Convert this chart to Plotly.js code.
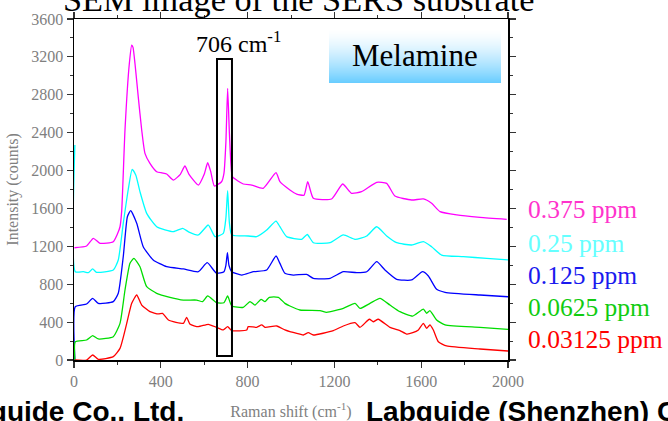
<!DOCTYPE html>
<html>
<head>
<meta charset="utf-8">
<script src="https://cdn.plot.ly/plotly-3.0.1.min.js"></script>
<style>html,body{margin:0;padding:0;background:#fff;}#chart{width:668px;height:421px;}</style>
</head>
<body>
<div id="chart"></div>
<script>
// ---- data ----
const seriesNames = ['0.375 ppm', '0.25 ppm', '0.125 ppm', '0.0625 ppm', '0.03125 ppm'];
const lineColors = ['#ff00ff', '#00ffff', '#0000ff', '#00dd00', '#ff0000'];
const labelColors = ['#ff33cc', '#66ffff', '#1a1aee', '#11cc11', '#ff0000'];

const xMag = [2,58,89,120,181,200,212,220,235,255,266,272,281,296,312,327,350,381,405,427,458,490,511,530,573,600,616,630,647,680,691,700,708,716,723,730,780,819,872,931,949,995,1026,1060,1077,1103,1187,1238,1279,1325,1395,1441,1479,1556,1610,1648,1687,1764,1871,1994];
const yMag = [1185,1203,1285,1232,1249,1330,1407,1580,2430,3130,3325,3300,3130,2780,2428,2182,2076,1988,1975,1964,1900,1960,2048,1960,1847,1960,2083,1990,1837,1882,1970,2300,2868,2400,2076,1935,1858,1847,1813,1978,1882,1795,1752,1740,1883,1707,1700,1858,1760,1777,1876,1865,1731,1689,1700,1654,1566,1531,1506,1485];

const xCyan = [4,6,43,66,86,104,181,204,227,250,268,285,304,335,381,458,501,530,573,619,650,688,700,708,716,727,803,842,888,931,949,980,1049,1075,1103,1180,1241,1295,1349,1395,1441,1487,1556,1610,1648,1694,1794,1902,2000];
const yCyan = [2270,932,932,922,961,926,950,1056,1443,1800,2013,1950,1777,1548,1407,1355,1390,1350,1320,1425,1302,1337,1500,1787,1450,1320,1309,1302,1372,1467,1407,1302,1274,1325,1238,1238,1320,1274,1309,1407,1309,1238,1214,1249,1196,1108,1091,1073,1056];

const xBlue = [4,6,58,86,112,181,204,227,246,261,289,319,365,427,504,573,614,657,691,700,707,714,727,773,826,888,931,949,972,1011,1072,1103,1180,1241,1303,1349,1395,1433,1487,1556,1606,1633,1671,1710,1871,2000];
const yBlue = [0,563,591,651,598,616,704,1091,1513,1576,1443,1196,1056,985,961,932,1027,915,932,1000,1133,1000,932,897,932,950,1098,1020,915,897,904,862,862,932,922,932,1038,950,852,845,932,887,746,715,686,668];

const xGreen = [4,6,58,86,112,181,212,235,258,276,304,335,381,442,504,565,593,616,657,691,708,727,780,811,834,862,880,900,942,972,995,1041,1134,1164,1241,1295,1318,1364,1410,1456,1502,1561,1610,1625,1640,1671,1710,1871,2000];
const yGreen = [0,193,211,257,222,246,387,739,1021,1073,985,774,704,662,633,633,616,676,605,605,676,570,556,616,580,640,616,662,662,598,570,528,521,503,545,598,545,598,651,580,510,464,538,493,521,422,370,345,323];

const xRed = [4,58,86,112,181,212,243,266,289,312,350,389,408,435,504,519,535,573,619,657,688,708,727,796,803,842,865,880,934,972,995,1041,1057,1080,1103,1195,1241,1295,1318,1361,1379,1402,1456,1502,1533,1561,1587,1610,1625,1640,1656,1679,1717,1871,2000];
const yRed = [0,0,53,7,35,123,387,598,686,580,510,486,493,422,387,451,377,352,377,345,317,352,310,317,352,345,370,345,359,317,299,274,264,288,264,310,359,394,345,430,404,430,345,310,274,288,317,387,334,370,317,193,148,116,95];

const xTickVals = [0, 400, 800, 1200, 1600, 2000];
const yTickVals = [0, 400, 800, 1200, 1600, 2000, 2400, 2800, 3200, 3600];
const boxX = [659, 728];   // highlighted band around 706 cm-1
const boxY = [42, 3178];

const xs = [xMag, xCyan, xBlue, xGreen, xRed];
const ys = [yMag, yCyan, yBlue, yGreen, yRed];

const serif = 'Liberation Serif, Times New Roman, serif';
const sans = 'Liberation Sans, Arial, sans-serif';

const traces = xs.map((x, i) => ({
  x: x, y: ys[i], type: 'scatter', mode: 'lines', name: seriesNames[i],
  line: {color: lineColors[i], width: 1.3, shape: 'spline', smoothing: 0.5},
  showlegend: false, hoverinfo: 'skip'
}));

// plot area in px: x 74..508, y 19..360
const L = 74, R = 508, T = 19, B = 360;
const px = p => (p - L) / (R - L);
const py = p => (B - p) / (B - T);

const shapes = [];
// gradient "Melamine" badge built from thin strips
const gTop = 28, gBot = 83, gL = 329, gR = 501;
for (let p = gTop; p < gBot; p++) {
  const t = (p - gTop) / (gBot - gTop);
  const b = Math.pow(t, 1.5);
  const r = Math.round(255 * (1 - b) + 102 * b);
  const g = Math.round(255 * (1 - b) + 204 * b);
  shapes.push({type: 'rect', xref: 'paper', yref: 'paper', layer: 'below',
    x0: px(gL), x1: px(gR), y0: py(p + 1), y1: py(p),
    fillcolor: `rgb(${r},${g},255)`, line: {width: 0}});
}
shapes.push({type: 'rect', xref: 'x', yref: 'y', x0: boxX[0], x1: boxX[1], y0: boxY[0], y1: boxY[1],
  line: {color: '#000', width: 2}, fillcolor: 'rgba(0,0,0,0)'});

const labelY = [210, 243, 275, 307, 339];
const annotations = seriesNames.map((n, i) => ({
  xref: 'paper', yref: 'paper', x: px(526), y: py(labelY[i]), xanchor: 'left', yanchor: 'middle',
  text: n, showarrow: false, font: {family: serif, size: 25.5, color: labelColors[i]}
}));
annotations.push(
  {xref: 'paper', yref: 'paper', x: px(415), y: py(55), xanchor: 'center', yanchor: 'middle',
   text: 'Melamine', showarrow: false, font: {family: serif, size: 31, color: '#000'}},
  {xref: 'paper', yref: 'paper', x: px(238), y: py(42), xanchor: 'center', yanchor: 'middle',
   text: '706 cm<sup>-1</sup>', showarrow: false, font: {family: serif, size: 24, color: '#000'}},
  {xref: 'paper', yref: 'paper', x: px(61), y: py(20), xanchor: 'left', yanchor: 'bottom',
   text: 'SEM image of the SERS substrate', showarrow: false, font: {family: serif, size: 34.3, color: '#000'}},
  {xref: 'paper', yref: 'paper', x: px(186), y: py(429), xanchor: 'right', yanchor: 'bottom',
   text: 'Labguide Co., Ltd.', showarrow: false, font: {family: sans, size: 28, color: '#000', weight: 'bold'}},
  {xref: 'paper', yref: 'paper', x: px(364), y: py(429), xanchor: 'left', yanchor: 'bottom',
   text: 'Labguide (Shenzhen) Co., Ltd.', showarrow: false, font: {family: sans, size: 28, color: '#000', weight: 'bold'}}
);

const axisCommon = {
  showline: true, linecolor: '#000', linewidth: 1.5, mirror: 'allticks',
  ticks: 'outside', ticklen: 6, tickwidth: 1.2, tickcolor: '#333',
  showgrid: false, zeroline: false,
  tickfont: {family: serif, size: 16, color: '#808080'},
  minor: {ticks: 'outside', ticklen: 3, tickwidth: 1, tickcolor: '#333', showgrid: false}
};

const layout = {
  width: 668, height: 421,
  margin: {l: L, r: 668 - R, t: T, b: 421 - B, pad: 0},
  paper_bgcolor: '#fff', plot_bgcolor: '#fff',
  showlegend: false,
  xaxis: Object.assign({}, axisCommon, {
    range: [0, 2000], tickvals: xTickVals, ticktext: xTickVals.map(String),
    minor: Object.assign({}, axisCommon.minor, {dtick: 200}),
    title: {text: 'Raman shift (cm<sup>-1</sup>)', font: {family: serif, size: 16, color: '#808080'}, standoff: 21}
  }),
  yaxis: Object.assign({}, axisCommon, {
    range: [0, 3600], tickvals: yTickVals, ticktext: yTickVals.map(String),
    minor: Object.assign({}, axisCommon.minor, {dtick: 200}),
    title: {text: 'Intensity (counts)', font: {family: serif, size: 16, color: '#808080'}, standoff: 8}
  }),
  shapes: shapes,
  annotations: annotations
};

Plotly.newPlot('chart', traces, layout, {staticPlot: true, displayModeBar: false});
</script>
</body>
</html>
